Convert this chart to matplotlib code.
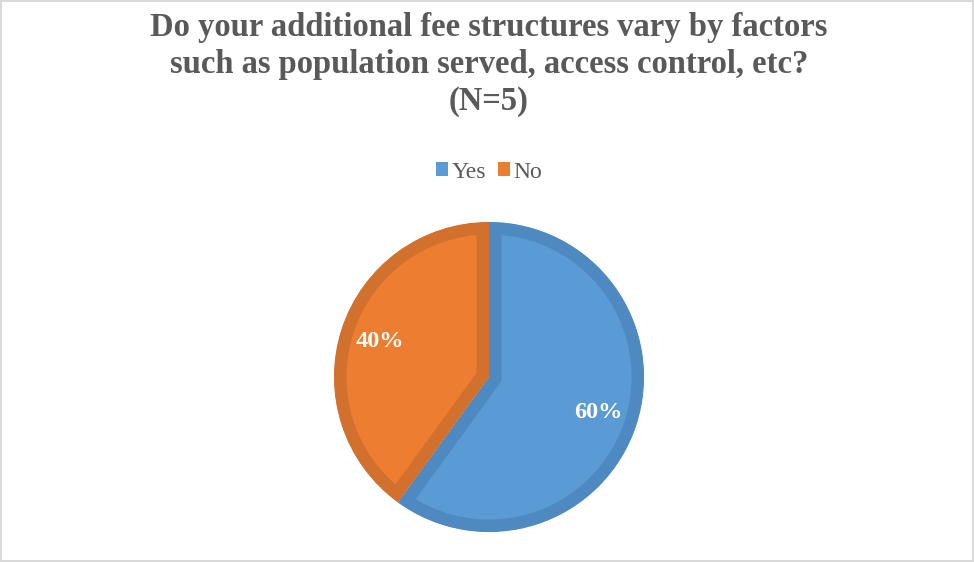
import matplotlib
matplotlib.use('Agg')

import matplotlib.pyplot as plt
from matplotlib.patches import Patch

# ── Dados ─────────────────────────────────────────────────────────────────────
categorias = ["Yes", "No"]
percentuais = [60, 40]
cores = ["#5B9BD5", "#ED7D31"]
cores_borda = ["#4F89C2", "#D1712D"]
titulo = ("Do your additional fee structures vary by factors\n"
          "such as population served, access control, etc?\n"
          "(N=5)")

W, H = 974, 562
fig = plt.figure(figsize=(W / 100, H / 100), dpi=100)
fig.patch.set_edgecolor("#D9D9D9")
fig.patch.set_linewidth(1.5)

# ── Pizza: centro ~(489, 377) px, raio ~155 px ────────────────────────────────
cx, cy, r = 489, 377, 155
lim = 1.03
lado = r * lim
ax = fig.add_axes([(cx - lado) / W, (H - cy - lado) / H, 2 * lado / W, 2 * lado / H])
wedges, textos = ax.pie(
    percentuais, colors=cores, startangle=90, counterclock=False,
    labels=[f"{p}%" for p in percentuais], labeldistance=0.74,
    textprops=dict(color="white", fontsize=17.5, fontweight="bold",
                   family="Liberation Serif", ha="center", va="center"),
)
# borda escura só do lado de dentro de cada fatia
for w, cb in zip(wedges, cores_borda):
    w.set_edgecolor(cb)
    w.set_linewidth(18)
    w.set_clip_on(True)
    w.set_clip_path(w.get_path(), w.get_transform())
ax.set_xlim(-lim, lim)
ax.set_ylim(-lim, lim)
ax.set_aspect("equal")
ax.axis("off")

# ── Título e legenda ─────────────────────────────────────────────────────────
fig.text(0.502, 1 - 12 / H, titulo, ha="center", va="top",
         fontsize=23.5, fontweight="bold", color="#595959",
         family="Liberation Serif", linespacing=1.245)

handles = [Patch(facecolor=c, edgecolor="none", label=cat)
           for c, cat in zip(cores, categorias)]
fig.legend(handles=handles, loc="center", bbox_to_anchor=(0.502, 1 - 172 / H),
           ncol=2, frameon=False, handlelength=0.5, handleheight=0.5,
           handletextpad=0.15, columnspacing=0.5,
           prop=dict(family="Liberation Serif", size=17), labelcolor="#595959")

plt.savefig("out.png", dpi=100)
plt.close()
